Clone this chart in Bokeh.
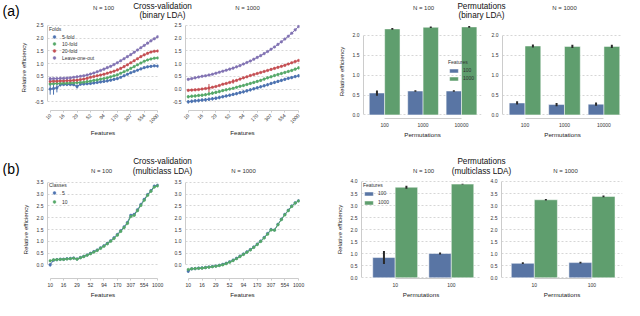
import math
from bokeh.plotting import figure
from bokeh.layouts import column, row
from bokeh.models import (Range1d, FixedTicker, PrintfTickFormatter, Label, Legend,
                          LegendItem, ColumnDataSource)
from bokeh.transform import dodge
from bokeh.embed import file_html
from bokeh.resources import INLINE

FONT = "Liberation Sans"

# ---------------- data ----------------
feature_ticks = ["10", "16", "29", "52", "94", "170", "307", "554", "1000"]
fold_labels = ["5-fold", "10-fold", "20-fold", "Leave-one-out"]
class_labels = ["5", "10"]
feature_groups = ["100", "1000"]
perm_binary = ["100", "1000", "10000"]
perm_multi = ["10", "100"]

# Cross-validation, binary LDA, N = 100
bin100_5fold = [0.00, 0.02, 0.05, 0.17, 0.18, 0.18, 0.18, 0.17, 0.10, 0.19, 0.20, 0.21, 0.22, 0.24, 0.26, 0.28, 0.30,
                0.32, 0.35, 0.38, 0.41, 0.46, 0.52, 0.58, 0.64, 0.69, 0.74, 0.79, 0.84, 0.87, 0.89, 0.91, 0.90]
bin100_10fold = [0.20, 0.21, 0.22, 0.22, 0.23, 0.23, 0.24, 0.24, 0.25, 0.26, 0.27, 0.29, 0.31, 0.34, 0.36, 0.39, 0.41,
                 0.44, 0.48, 0.52, 0.56, 0.62, 0.68, 0.74, 0.81, 0.88, 0.95, 1.02, 1.09, 1.14, 1.18, 1.21, 1.22]
bin100_20fold = [0.30, 0.31, 0.31, 0.32, 0.32, 0.33, 0.33, 0.34, 0.35, 0.37, 0.39, 0.42, 0.46, 0.49, 0.52, 0.55, 0.58,
                 0.62, 0.66, 0.70, 0.75, 0.81, 0.88, 0.95, 1.03, 1.11, 1.19, 1.27, 1.34, 1.40, 1.45, 1.48, 1.49]
bin100_loo = [0.40, 0.41, 0.41, 0.42, 0.42, 0.43, 0.44, 0.46, 0.48, 0.50, 0.52, 0.55, 0.59, 0.63, 0.68, 0.73, 0.78,
              0.84, 0.89, 0.96, 1.03, 1.11, 1.19, 1.27, 1.35, 1.44, 1.53, 1.62, 1.71, 1.80, 1.89, 1.97, 2.05]
bin100_5fold_err = [0.22, 0.24, 0.18, 0.07, 0.05, 0.05, 0.05, 0.05, 0.08, 0.05, 0.05, 0.05, 0.05, 0.05, 0.05, 0.05, 0.05,
                    0.05, 0.05, 0.05, 0.04, 0.04, 0.04, 0.04, 0.04, 0.04, 0.04, 0.04, 0.04, 0.04, 0.04, 0.03, 0.03]
bin100_10fold_err = [0.05, 0.03, 0.03, 0.03, 0.03, 0.03, 0.03, 0.03, 0.03, 0.03, 0.03, 0.03, 0.03, 0.03, 0.03, 0.03, 0.03,
                     0.03, 0.03, 0.03, 0.03, 0.03, 0.03, 0.03, 0.03, 0.03, 0.03, 0.03, 0.03, 0.03, 0.03, 0.03, 0.03]
bin100_20fold_err = [0.03, 0.03, 0.03, 0.03, 0.03, 0.03, 0.03, 0.03, 0.03, 0.03, 0.03, 0.03, 0.03, 0.03, 0.03, 0.03, 0.03,
                     0.03, 0.03, 0.03, 0.03, 0.03, 0.03, 0.03, 0.03, 0.03, 0.03, 0.03, 0.03, 0.03, 0.03, 0.03, 0.03]
bin100_loo_err = [0.08, 0.02, 0.02, 0.02, 0.02, 0.02, 0.02, 0.02, 0.02, 0.02, 0.02, 0.02, 0.02, 0.02, 0.02, 0.02, 0.02,
                  0.02, 0.02, 0.02, 0.02, 0.02, 0.02, 0.02, 0.02, 0.02, 0.02, 0.02, 0.02, 0.02, 0.02, 0.02, 0.02]

# Cross-validation, binary LDA, N = 1000
bin1000_5fold = [-0.50, -0.48, -0.46, -0.45, -0.43, -0.42, -0.40, -0.38, -0.36, -0.33, -0.30, -0.27, -0.24, -0.21,
                 -0.18, -0.14, -0.11, -0.07, -0.03, 0.01, 0.05, 0.09, 0.13, 0.17, 0.22, 0.26, 0.30, 0.34, 0.38,
                 0.42, 0.45, 0.49, 0.52]
bin1000_10fold = [-0.30, -0.28, -0.27, -0.25, -0.24, -0.22, -0.19, -0.16, -0.13, -0.10, -0.06, -0.03, 0.00, 0.03,
                  0.07, 0.11, 0.14, 0.18, 0.22, 0.26, 0.30, 0.34, 0.39, 0.44, 0.48, 0.53, 0.57, 0.61, 0.65, 0.69,
                  0.73, 0.78, 0.83]
bin1000_20fold = [-0.05, -0.04, -0.03, -0.02, 0.00, 0.02, 0.04, 0.07, 0.10, 0.14, 0.19, 0.22, 0.26, 0.30, 0.34, 0.39,
                  0.44, 0.48, 0.53, 0.57, 0.61, 0.65, 0.69, 0.73, 0.77, 0.81, 0.85, 0.89, 0.93, 0.98, 1.03, 1.08, 1.12]
bin1000_loo = [0.38, 0.41, 0.44, 0.47, 0.50, 0.52, 0.55, 0.58, 0.62, 0.66, 0.70, 0.74, 0.78, 0.82, 0.87, 0.92, 0.98,
               1.04, 1.10, 1.17, 1.24, 1.31, 1.39, 1.47, 1.56, 1.65, 1.75, 1.85, 1.96, 2.07, 2.19, 2.32, 2.45]
bin1000_5fold_err = [0.07, 0.07, 0.07, 0.07, 0.07, 0.07, 0.07, 0.07, 0.07, 0.07, 0.06, 0.06, 0.06, 0.06, 0.06, 0.06,
                     0.06, 0.06, 0.06, 0.06, 0.06, 0.06, 0.06, 0.06, 0.06, 0.06, 0.06, 0.06, 0.06, 0.06, 0.06, 0.06, 0.06]
bin1000_10fold_err = [0.06, 0.06, 0.06, 0.06, 0.06, 0.06, 0.06, 0.06, 0.06, 0.06, 0.05, 0.05, 0.05, 0.05, 0.05, 0.05,
                      0.05, 0.05, 0.05, 0.05, 0.05, 0.05, 0.05, 0.05, 0.05, 0.05, 0.05, 0.05, 0.05, 0.05, 0.05, 0.05, 0.05]
bin1000_20fold_err = [0.03, 0.03, 0.03, 0.03, 0.03, 0.03, 0.16, 0.03, 0.03, 0.03, 0.03, 0.03, 0.03, 0.09, 0.03, 0.03,
                      0.03, 0.03, 0.03, 0.03, 0.03, 0.03, 0.03, 0.03, 0.03, 0.03, 0.03, 0.03, 0.03, 0.03, 0.03, 0.03, 0.03]
bin1000_loo_err = [0.02, 0.02, 0.02, 0.02, 0.02, 0.02, 0.02, 0.02, 0.02, 0.02, 0.02, 0.02, 0.02, 0.02, 0.02, 0.02,
                   0.02, 0.02, 0.02, 0.02, 0.02, 0.02, 0.02, 0.02, 0.02, 0.02, 0.02, 0.02, 0.02, 0.02, 0.02, 0.02, 0.02]

# Cross-validation, multiclass LDA
multi100_c5 = [0.00, 0.20, 0.22, 0.24, 0.24, 0.26, 0.27, 0.29, 0.25, 0.31, 0.36, 0.42, 0.49, 0.56, 0.63, 0.72, 0.81,
               0.91, 1.02, 1.15, 1.29, 1.45, 1.61, 1.80, 2.10, 2.14, 2.34, 2.56, 2.78, 2.98, 3.15, 3.34, 3.38]
multi100_c10 = [0.17, 0.21, 0.22, 0.23, 0.23, 0.25, 0.26, 0.28, 0.24, 0.30, 0.35, 0.41, 0.47, 0.54, 0.61, 0.70, 0.79,
                0.89, 1.00, 1.12, 1.26, 1.42, 1.58, 1.76, 2.05, 2.10, 2.30, 2.52, 2.74, 2.95, 3.12, 3.30, 3.35]
multi1000_c5 = [-0.27, -0.17, -0.16, -0.14, -0.13, -0.11, -0.09, -0.07, -0.05, -0.02, 0.02, 0.07, 0.13, 0.20, 0.28,
                0.37, 0.46, 0.55, 0.65, 0.76, 0.88, 1.01, 1.16, 1.33, 1.50, 1.48, 1.72, 1.94, 2.14, 2.32, 2.50, 2.63, 2.72]
multi1000_c10 = [-0.20, -0.17, -0.16, -0.15, -0.14, -0.12, -0.10, -0.08, -0.06, -0.03, 0.00, 0.05, 0.11, 0.18, 0.26,
                 0.35, 0.44, 0.53, 0.63, 0.74, 0.86, 0.99, 1.14, 1.30, 1.48, 1.47, 1.70, 1.92, 2.12, 2.30, 2.48, 2.62, 2.71]
multi_c5_err = [0.07, 0.03, 0.03, 0.03, 0.03, 0.03, 0.03, 0.03, 0.03, 0.03, 0.03, 0.03, 0.03, 0.03, 0.03, 0.03, 0.03,
                0.03, 0.03, 0.03, 0.03, 0.03, 0.03, 0.03, 0.03, 0.03, 0.03, 0.03, 0.03, 0.03, 0.03, 0.03, 0.03]
multi_c10_err = [0.03, 0.03, 0.03, 0.03, 0.03, 0.03, 0.03, 0.03, 0.03, 0.03, 0.03, 0.03, 0.03, 0.03, 0.03, 0.03, 0.03,
                 0.03, 0.03, 0.03, 0.03, 0.03, 0.03, 0.03, 0.03, 0.03, 0.03, 0.03, 0.03, 0.03, 0.03, 0.03, 0.03]

# Permutations, binary LDA
pbin100_f100 = [0.55, 0.60, 0.60]
pbin100_f100_lo = [0.48, 0.58, 0.58]
pbin100_f100_hi = [0.61, 0.62, 0.62]
pbin100_f1000 = [2.16, 2.20, 2.21]
pbin100_f1000_lo = [2.14, 2.18, 2.19]
pbin100_f1000_hi = [2.18, 2.22, 2.23]
pbin1000_f100 = [0.30, 0.26, 0.27]
pbin1000_f100_lo = [0.26, 0.22, 0.23]
pbin1000_f100_hi = [0.34, 0.30, 0.31]
pbin1000_f1000 = [1.73, 1.72, 1.72]
pbin1000_f1000_lo = [1.69, 1.68, 1.68]
pbin1000_f1000_hi = [1.77, 1.76, 1.76]

# Permutations, multiclass LDA
pmul100_f100 = [0.84, 1.01]
pmul100_f100_lo = [0.57, 0.97]
pmul100_f100_hi = [1.11, 1.05]
pmul100_f1000 = [3.76, 3.89]
pmul100_f1000_lo = [3.70, 3.87]
pmul100_f1000_hi = [3.82, 3.91]
pmul1000_f100 = [0.60, 0.63]
pmul1000_f100_lo = [0.57, 0.59]
pmul1000_f100_hi = [0.64, 0.67]
pmul1000_f1000 = [3.24, 3.38]
pmul1000_f1000_lo = [3.21, 3.34]
pmul1000_f1000_hi = [3.27, 3.42]

yticks_cv_bin = [-0.5, 0.0, 0.5, 1.0, 1.5, 2.0, 2.5]
yticks_perm_bin = [0.0, 0.5, 1.0, 1.5, 2.0]
yticks_cv_multi = [0.0, 0.5, 1.0, 1.5, 2.0, 2.5, 3.0, 3.5]
yticks_perm_multi = [0.0, 0.5, 1.0, 1.5, 2.0, 2.5, 3.0, 3.5, 4.0]

# ---------------- style ----------------
C_BLUE, C_GREEN, C_RED, C_PURPLE = "#4C72B0", "#55A868", "#C44E52", "#8172B2"
BAR_BLUE, BAR_GREEN = "#5975A4", "#5F9E6E"
AX_COL = "#cccccc"
TXT = "#333333"


def style(p, yticks, ybounds, ylabel, xlabel, ylab_standoff):
    yt = FixedTicker(ticks=yticks)
    p.yaxis.ticker = yt
    p.ygrid.ticker = yt
    p.yaxis.formatter = PrintfTickFormatter(format="%.1f")
    p.yaxis.bounds = ybounds
    for ax in p.axis:
        ax.axis_line_color = AX_COL
        ax.axis_line_width = 1
        ax.major_label_text_font = FONT
        ax.major_label_text_font_size = "5px"
        ax.major_label_text_color = TXT
        ax.axis_label_text_font = FONT
        ax.axis_label_text_font_size = "6.2px"
        ax.axis_label_text_font_style = "normal"
        ax.axis_label_text_color = "#222222"
        ax.minor_tick_line_color = None
        ax.major_tick_in = 0
    p.yaxis.major_tick_out = 0
    p.yaxis.major_label_standoff = 4
    p.yaxis.axis_label = ylabel
    p.yaxis.axis_label_standoff = ylab_standoff
    p.xaxis.axis_label = xlabel
    p.xaxis.axis_label_standoff = 1
    p.xgrid.visible = False
    p.ygrid.grid_line_color = AX_COL
    p.ygrid.grid_line_dash = "2 2"
    p.ygrid.grid_line_width = 0.8
    p.outline_line_color = None


def cv_fig(series, errs, colors, ylim, yticks, ybounds, fw, fh, bl, br, bb, rotate,
           ylabel=None, legend_title=None, legend_labels=None, legend_spacing=0):
    n = len(series[0])
    p = figure(frame_width=fw, frame_height=fh, min_border_left=bl, min_border_right=br,
               min_border_top=4, min_border_bottom=bb, x_range=Range1d(-0.8, n - 1 + 0.25),
               y_range=Range1d(*ylim), toolbar_location=None, output_backend="svg", title=None)
    xs = list(range(n))
    rends = []
    for vals, err, c in zip(series, errs, colors):
        src = ColumnDataSource(dict(x=xs, y=vals, lo=[v - e for v, e in zip(vals, err)],
                                    hi=[v + e for v, e in zip(vals, err)]))
        p.segment(x0="x", y0="lo", x1="x", y1="hi", source=src, line_color=c, line_width=1)
        p.line("x", "y", source=src, line_color=c, line_width=1)
        r = p.scatter("x", "y", source=src, size=2.6, fill_color=c, line_color=c, line_width=0.5)
        rends.append(r)
    style(p, yticks, ybounds, ylabel, "Features", 5)
    nt = len(feature_ticks)
    tpos = [k * (n - 1) / (nt - 1) for k in range(nt)]
    p.xaxis.ticker = FixedTicker(ticks=tpos)
    p.xaxis.major_label_overrides = {t: lab for t, lab in zip(tpos, feature_ticks)}
    p.xaxis.bounds = (0, n - 1)
    p.xaxis.major_tick_out = 2
    p.xaxis.major_tick_line_color = AX_COL
    p.xaxis.major_label_standoff = 2
    if rotate:
        p.xaxis.major_label_orientation = math.pi / 4
    if legend_title:
        lg = Legend(items=[LegendItem(label=l, renderers=[r]) for l, r in zip(legend_labels, rends)],
                    location="top_left", title=legend_title, title_text_font=FONT,
                    title_text_font_size="5px", title_text_font_style="normal", title_text_color=TXT,
                    label_text_font=FONT, label_text_font_size="5px", label_text_color=TXT,
                    glyph_width=10, glyph_height=7, label_height=7, label_standoff=3,
                    spacing=legend_spacing, padding=2, margin=2, title_standoff=1,
                    border_line_color=None, background_fill_alpha=0)
        p.add_layout(lg)
    return p


def bar_fig(cats, b, b_lo, b_hi, g, g_lo, g_hi, xr, ylim, yticks, fw, fh, bl, br, bb,
            ylabel=None, legend_loc=None, legend_spacing=2):
    pos = list(range(len(cats)))
    p = figure(frame_width=fw, frame_height=fh, min_border_left=bl, min_border_right=br,
               min_border_top=4, min_border_bottom=bb, x_range=Range1d(*xr),
               y_range=Range1d(*ylim), toolbar_location=None, output_backend="svg", title=None)
    src = ColumnDataSource(dict(pos=pos, b=b, b_lo=b_lo, b_hi=b_hi, g=g, g_lo=g_lo, g_hi=g_hi))
    rb = p.vbar(x=dodge("pos", -0.2), top="b", width=0.4, source=src, fill_color=BAR_BLUE,
                line_color="white", line_width=0.5)
    rg = p.vbar(x=dodge("pos", 0.2), top="g", width=0.4, source=src, fill_color=BAR_GREEN,
                line_color="white", line_width=0.5)
    p.segment(x0=dodge("pos", -0.2), y0="b_lo", x1=dodge("pos", -0.2), y1="b_hi", source=src,
              line_color="#2a2a2a", line_width=2)
    p.segment(x0=dodge("pos", 0.2), y0="g_lo", x1=dodge("pos", 0.2), y1="g_hi", source=src,
              line_color="#2a2a2a", line_width=2)
    style(p, yticks, (yticks[0], yticks[-1]), ylabel, "Permutations", 5)
    p.xaxis.ticker = FixedTicker(ticks=pos)
    p.xaxis.major_label_overrides = {i: c for i, c in zip(pos, cats)}
    p.xaxis.bounds = (pos[0], pos[-1])
    p.xaxis.major_tick_out = 0
    p.xaxis.major_label_standoff = 4
    if legend_loc is not None:
        lg = Legend(items=[LegendItem(label=feature_groups[0], renderers=[rb]),
                           LegendItem(label=feature_groups[1], renderers=[rg])],
                    location=legend_loc, title="Features", title_text_font=FONT,
                    title_text_font_size="5px", title_text_font_style="normal", title_text_color=TXT,
                    label_text_font=FONT, label_text_font_size="5px", label_text_color=TXT,
                    glyph_width=11, glyph_height=5, label_height=5, label_standoff=4,
                    spacing=legend_spacing, padding=2, margin=2, title_standoff=2,
                    border_line_color=None, background_fill_alpha=0)
        p.add_layout(lg)
    return p


def header(h, items):
    p = figure(width=624, height=h, x_range=Range1d(0, 624), y_range=Range1d(h, 0), min_border=0,
               toolbar_location=None, output_backend="svg", x_axis_location=None,
               y_axis_location=None, title=None)
    p.grid.visible = False
    p.outline_line_color = None
    for txt, x, y, size, align, color in items:
        p.add_layout(Label(x=x, y=y, text=txt, text_font=FONT, text_font_size=size,
                           text_align=align, text_baseline="middle", text_color=color))
    return p


# ---------------- row (a) ----------------
head_a = header(20, [
    ("(a)", 2, 10, "14px", "left", "#000000"),
    ("N = 100", 103, 7, "6px", "center", TXT),
    ("Cross-validation", 162, 5.5, "8.2px", "center", "#111111"),
    ("(binary LDA)", 162, 15, "8.2px", "center", "#111111"),
    ("N = 1000", 247, 7, "6px", "center", TXT),
    ("N = 100", 423, 7, "6px", "center", TXT),
    ("Permutations", 481, 5.5, "8.2px", "center", "#111111"),
    ("(binary LDA)", 481, 15, "8.2px", "center", "#111111"),
    ("N = 1000", 564, 7, "6px", "center", TXT),
])

cols4 = [C_BLUE, C_GREEN, C_RED, C_PURPLE]
a1 = cv_fig([bin100_5fold, bin100_10fold, bin100_20fold, bin100_loo],
            [bin100_5fold_err, bin100_10fold_err, bin100_20fold_err, bin100_loo_err],
            cols4, (-0.84, 2.53), yticks_cv_bin, (-0.5, 2.5), 111, 86, 47, 6, 30, True,
            ylabel="Relative efficiency", legend_title="Folds", legend_labels=fold_labels)
a2 = cv_fig([bin1000_5fold, bin1000_10fold, bin1000_20fold, bin1000_loo],
            [bin1000_5fold_err, bin1000_10fold_err, bin1000_20fold_err, bin1000_loo_err],
            cols4, (-0.84, 2.53), yticks_cv_bin, (-0.5, 2.5), 114, 86, 21, 30, 30, True)
a3 = bar_fig(perm_binary, pbin100_f100, pbin100_f100_lo, pbin100_f100_hi,
             pbin100_f1000, pbin100_f1000_lo, pbin100_f1000_hi,
             (-0.55, 2.52), (-0.09, 2.27), yticks_perm_bin, 118, 94, 34, 1, 22,
             ylabel="Relative efficiency", legend_loc=(85, 37), legend_spacing=2)
a4 = bar_fig(perm_binary, pbin1000_f100, pbin1000_f100_lo, pbin1000_f100_hi,
             pbin1000_f1000, pbin1000_f1000_lo, pbin1000_f1000_hi,
             (-0.57, 2.47), (-0.09, 2.27), yticks_perm_bin, 120, 94, 20, 2, 22)

# ---------------- row (b) ----------------
head_b = header(36, [
    ("(b)", 2, 28, "14px", "left", "#000000"),
    ("N = 100", 101, 30, "6px", "center", TXT),
    ("Cross-validation", 162, 21, "8.2px", "center", "#111111"),
    ("(multiclass LDA)", 162, 30.5, "8.2px", "center", "#111111"),
    ("N = 1000", 243, 30, "6px", "center", TXT),
    ("N = 100", 423, 30, "6px", "center", TXT),
    ("Permutations", 481, 21, "8.2px", "center", "#111111"),
    ("(multiclass LDA)", 481, 30.5, "8.2px", "center", "#111111"),
    ("N = 1000", 565, 30, "6px", "center", TXT),
])

cols2 = [C_BLUE, C_GREEN]
b1 = cv_fig([multi100_c5, multi100_c10], [multi_c5_err, multi_c10_err], cols2,
            (-0.58, 3.58), yticks_cv_multi, (0.0, 3.5), 111, 98, 47, 6, 22, False,
            ylabel="Relative efficiency", legend_title="Classes", legend_labels=class_labels,
            legend_spacing=2)
b2 = cv_fig([multi1000_c5, multi1000_c10], [multi_c5_err, multi_c10_err], cols2,
            (-0.58, 3.58), yticks_cv_multi, (0.0, 3.5), 114, 98, 21, 28, 22, False)
b3 = bar_fig(perm_multi, pmul100_f100, pmul100_f100_lo, pmul100_f100_hi,
             pmul100_f1000, pmul100_f1000_lo, pmul100_f1000_hi,
             (-0.6, 1.52), (-0.03, 4.04), yticks_perm_multi, 119, 98, 34, 1, 22,
             ylabel="Relative efficiency", legend_loc="top_left", legend_spacing=3)
b4 = bar_fig(perm_multi, pmul1000_f100, pmul1000_f100_lo, pmul1000_f100_hi,
             pmul1000_f1000, pmul1000_f1000_lo, pmul1000_f1000_hi,
             (-0.57, 1.53), (-0.03, 4.04), yticks_perm_multi, 121, 98, 20, 2, 22)

layout = column(head_a, row(a1, a2, a3, a4), head_b, row(b1, b2, b3, b4))

open("out.html", "w").write(file_html(layout, INLINE))
